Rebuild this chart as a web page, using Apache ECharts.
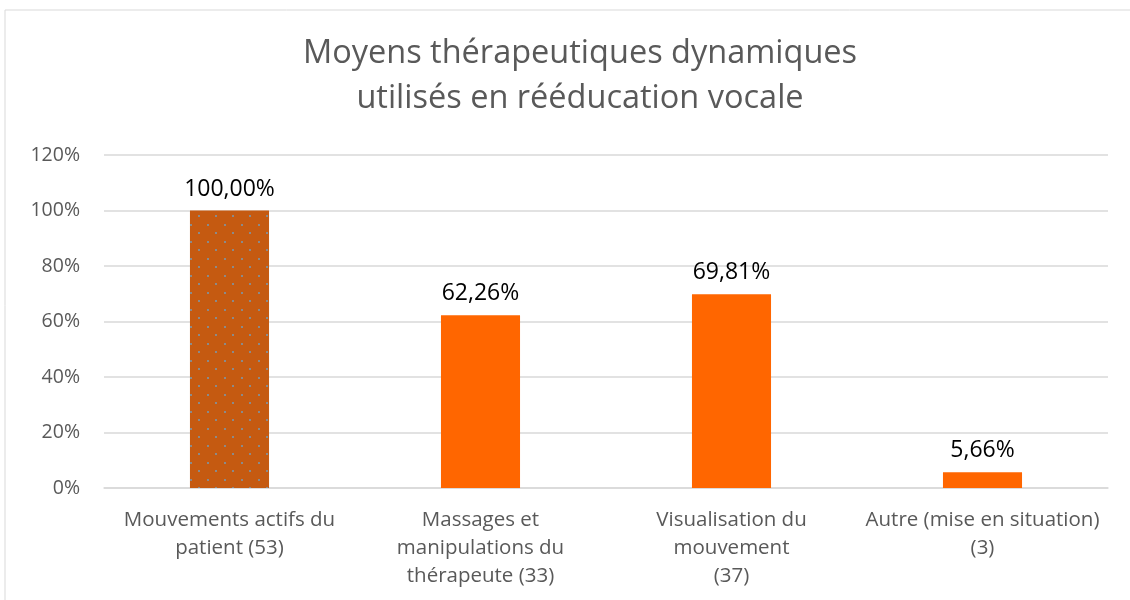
<!DOCTYPE html>
<html>
<head>
<meta charset="utf-8">
<script src="https://cdn.jsdelivr.net/npm/echarts@6/dist/echarts.min.js"></script>
<style>
  html, body { margin: 0; padding: 0; background: #fff; }
  #main { width: 1130px; height: 600px; }
</style>
</head>
<body>
<div id="main"></div>
<script>
// catégories (retours à la ligne comme dans le graphique d'origine)
const categories = [
    'Mouvements actifs du\npatient (53)',
    'Massages et\nmanipulations du\nthérapeute (33)',
    'Visualisation du\nmouvement\n(37)',
    'Autre (mise en situation)\n(3)'
];

// pourcentages
const values = [100, 62.26, 69.81, 5.66];

// graduations de l'axe Y
const yMax = 120;
const yStep = 20;

// motif pointillé pour la première barre
const makeDotPattern = () => {
    const c = document.createElement('canvas');
    c.width = 17;
    c.height = 17;
    const ctx = c.getContext('2d');
    ctx.fillStyle = '#C55A11';
    ctx.fillRect(0, 0, 17, 17);
    ctx.fillStyle = '#8a8a8a';
    ctx.fillRect(3, 3, 2, 2);
    ctx.fillRect(11, 11, 2, 2);
    return c;
};

const chart = echarts.init(document.getElementById('main'));
const font = '"Open Sans", sans-serif';

const option = {
    animation: false,
    backgroundColor: '#fff',
    textStyle: { fontFamily: font },
    title: {
        text: 'Moyens thérapeutiques dynamiques\nutilisés en rééducation vocale',
        left: 575,
        textAlign: 'center',
        top: 26,
        textStyle: {
            fontFamily: font,
            fontSize: 32.5,
            fontWeight: 'normal',
            color: '#595959',
            lineHeight: 45
        }
    },
    graphic: [{
        type: 'rect',
        shape: { x: 5, y: 10, width: 1140, height: 600 },
        style: { fill: 'none', stroke: '#d9d9d9', lineWidth: 1 },
        silent: true
    }],
    grid: { left: 104, right: 22, top: 155, bottom: 112 },
    xAxis: {
        type: 'category',
        data: categories,
        axisTick: { show: false },
        axisLine: { lineStyle: { color: '#d9d9d9', width: 1.5 } },
        axisLabel: {
            interval: 0,
            fontFamily: font,
            fontSize: 20.5,
            color: '#595959',
            lineHeight: 28,
            margin: 18
        }
    },
    yAxis: {
        type: 'value',
        min: 0,
        max: yMax,
        interval: yStep,
        axisLine: { show: false },
        axisTick: { show: false },
        splitLine: { lineStyle: { color: '#d9d9d9', width: 1.5 } },
        axisLabel: {
            formatter: '{value}%',
            fontFamily: font,
            fontSize: 19.5,
            color: '#595959',
            margin: 24
        }
    },
    series: [{
        type: 'bar',
        barWidth: '31.5%',
        data: values.map((v, i) => ({
            value: v,
            itemStyle: {
                color: i === 0 ? { image: makeDotPattern(), repeat: 'repeat' } : '#FF6600'
            }
        })),
        label: {
            show: true,
            position: 'top',
            distance: 10,
            fontFamily: font,
            fontSize: 23,
            color: '#000',
            formatter: p => p.value.toFixed(2).replace('.', ',') + '%'
        }
    }]
};

chart.setOption(option);
</script>
</body>
</html>
